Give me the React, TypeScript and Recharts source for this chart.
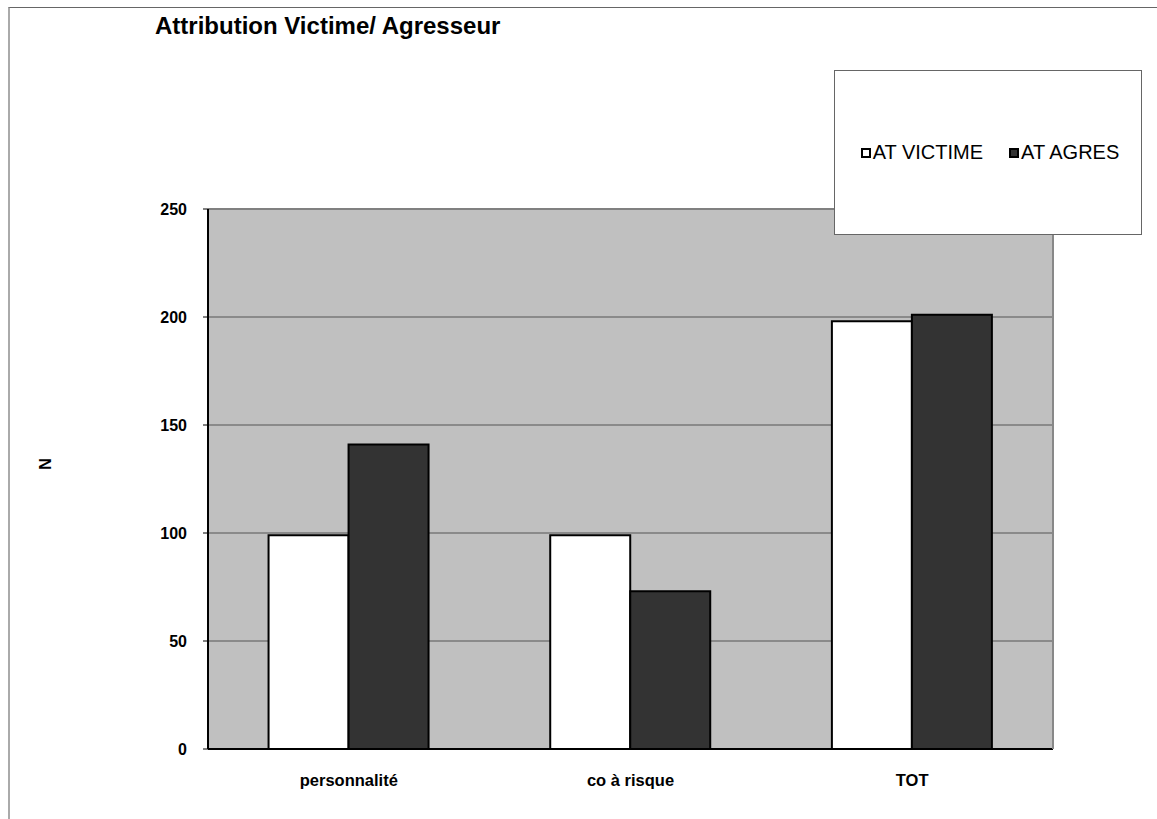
import {
  Bar,
  BarChart,
  CartesianGrid,
  Legend,
  ReferenceLine,
  XAxis,
  YAxis,
} from 'recharts'

const categories = ['personnalité', 'co à risque', 'TOT']
const seriesNames = ['AT VICTIME', 'AT AGRES']
const atVictime = [99, 99, 198]
const atAgres = [141, 73, 201]
const yTicks = [0, 50, 100, 150, 200, 250]
const edgeTicks = [0, 1, 2, 3]

const FONT = '"Liberation Sans", Arial, sans-serif'

const data = categories.map((name, i) => ({
  name,
  victime: atVictime[i],
  agres: atAgres[i],
}))

function LegendBox({ payload }: any) {
  const items = [...(payload || [])].sort(
    (a: any, b: any) => seriesNames.indexOf(a.value) - seriesNames.indexOf(b.value),
  )
  return (
    <div
      style={{
        width: 308,
        height: 165,
        boxSizing: 'border-box',
        border: '1px solid #666',
        background: '#fff',
        display: 'flex',
        alignItems: 'center',
        justifyContent: 'center',
        gap: 26,
        fontFamily: FONT,
        fontSize: 20,
        color: '#000',
        paddingLeft: 4,
      }}
    >
      {items.map((p: any) => (
        <span key={p.value} style={{ display: 'flex', alignItems: 'center' }}>
          <span
            style={{
              width: 10,
              height: 10,
              boxSizing: 'border-box',
              border: '2px solid #000',
              background: p.color,
              marginRight: 2,
            }}
          />
          {p.value}
        </span>
      ))}
    </div>
  )
}

export default function App() {
  return (
    <div
      style={{
        position: 'absolute',
        top: 7,
        left: 8,
        width: 1147,
        height: 812,
        borderTop: '1px solid #666',
        borderLeft: '2px solid #aaa',
        fontFamily: FONT,
      }}
    >
      <div
        style={{
          position: 'absolute',
          left: 145,
          top: 6,
          fontSize: 24,
          lineHeight: '24px',
          fontWeight: 'bold',
          whiteSpace: 'nowrap',
        }}
      >
        Attribution Victime/ Agresseur
      </div>
      <BarChart
        width={1147}
        height={811}
        data={data}
        margin={{ top: 201, right: 103, bottom: 30, left: 0 }}
        barCategoryGap="21.5%"
        barGap={0}
      >
        <CartesianGrid
          xAxisId="cat"
          yAxisId="n"
          vertical={false}
          fill="#c0c0c0"
          fillOpacity={1}
          stroke="#555"
        />
        <XAxis
          xAxisId="edges"
          type="number"
          domain={[0, 3]}
          ticks={edgeTicks}
          axisLine={false}
          tick={false}
          tickSize={5}
          tickLine={{ stroke: '#000' }}
          height={1}
        />
        <XAxis
          xAxisId="cat"
          dataKey="name"
          height={39}
          axisLine={{ stroke: '#000', strokeWidth: 2 }}
          tickLine={false}
          tickSize={0}
          tickMargin={25}
          tick={{ fill: '#000', fontSize: 16.5, fontWeight: 'bold', fontFamily: FONT }}
        />
        <YAxis
          yAxisId="n"
          domain={[0, 250]}
          ticks={yTicks}
          width={198}
          axisLine={{ stroke: '#000', strokeWidth: 2 }}
          tickLine={{ stroke: '#000' }}
          tickSize={5}
          tickMargin={16}
          tick={{ fill: '#000', fontSize: 16, fontWeight: 'bold', fontFamily: FONT }}
          label={{
            content: ({ viewBox }: any) => (
              <text
                x={viewBox.x + 35}
                y={viewBox.y + viewBox.height / 2 - 15}
                transform={`rotate(-90, ${viewBox.x + 35}, ${viewBox.y + viewBox.height / 2 - 15})`}
                textAnchor="middle"
                dominantBaseline="central"
                fontFamily={FONT}
                fontSize={16}
                fontWeight="bold"
                fill="#000"
              >
                N
              </text>
            ),
          }}
        />
        <YAxis
          yAxisId="frame"
          orientation="right"
          domain={[0, 250]}
          width={1}
          tick={false}
          tickLine={false}
          axisLine={{ stroke: '#888', strokeWidth: 2 }}
        />
        <ReferenceLine xAxisId="cat" yAxisId="n" y={250} stroke="#808080" strokeWidth={2} />
        <Legend
          layout="horizontal"
          verticalAlign="middle"
          align="center"
          wrapperStyle={{ left: 824, top: 62, width: 308, height: 165 }}
          content={<LegendBox />}
        />
        <Bar
          xAxisId="cat"
          yAxisId="n"
          dataKey="victime"
          name={seriesNames[0]}
          fill="#ffffff"
          stroke="#000"
          strokeWidth={2}
          isAnimationActive={false}
        />
        <Bar
          xAxisId="cat"
          yAxisId="n"
          dataKey="agres"
          name={seriesNames[1]}
          fill="#333333"
          stroke="#000"
          strokeWidth={2}
          isAnimationActive={false}
        />
      </BarChart>
    </div>
  )
}
